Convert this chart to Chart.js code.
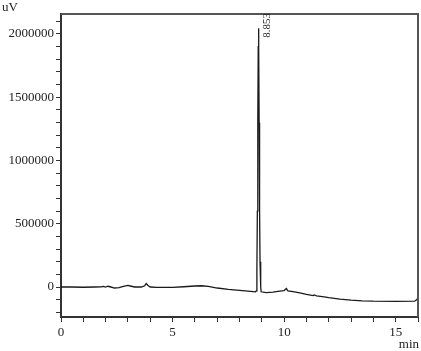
<!DOCTYPE html>
<html>
<head>
<meta charset="utf-8">
<script src="https://cdn.jsdelivr.net/npm/chart.js@4.4.1/dist/chart.umd.min.js"></script>
<style>
  html, body { margin: 0; padding: 0; background: #fff; }
  #wrap { width: 421px; height: 351px; }
</style>
</head>
<body>
<div id="wrap"><canvas id="chrom"></canvas></div>
<script>
// retention time (min) and detector signal (uV)
const times = [0, 0.5, 1.0, 1.5, 1.8, 1.9, 2.0, 2.1, 2.2, 2.4, 2.6, 2.8, 3.0, 3.1, 3.3, 3.6,
  3.75, 3.82, 3.9, 4.0, 4.3, 5.0, 5.5, 6.0, 6.3, 6.6, 7.0, 7.5, 8.0, 8.5, 8.72, 8.75,
  8.78, 8.80, 8.82, 8.84, 8.853, 8.865, 8.88, 8.90, 8.92, 8.95, 8.97, 9.2, 9.5, 9.8, 10.0, 10.1,
  10.17, 10.4, 10.7, 11.0, 11.3, 11.35, 11.45, 11.8, 12.0, 12.5, 13.0, 13.5, 14.0,
  15.0, 15.85, 15.95, 16.0];
const signal = [0, 0, -2000, 0, 1000, 5000, 0, 6000, 2000, -8000, -5000, 5000, 12000, 8000, 0, 0,
  10000, 28000, 12000, 0, -3000, -3000, 2000, 8000, 10000, 5000, -8000, -18000, -26000, -34000, -38000, -30000,
  150000, 600000, 1300000, 1900000, 2045000, 1900000, 1300000, 600000, 200000, 0, -38000, -45000, -40000, -33000, -28000, -12000,
  -30000, -36000, -46000, -58000, -68000, -63000, -70000, -78000, -84000, -95000, -104000, -109000, -112000,
  -114000, -112000, -100000, -78000];

const peakTimes = [8.853];
const peakLabels = ['8.853'];

// labelled ticks; minor ticks every 1 min / 100000 uV
const xTickLabels = [0, 5, 10, 15];
const yTickLabels = [0, 500000, 1000000, 1500000, 2000000];
const yMinorStep = 100000;

const serif = 'Liberation Serif';
const ink = '#222';

const framePlugin = {
  id: 'frame',
  afterDraw(chart) {
    const { ctx, chartArea: a, scales } = chart;
    ctx.save();
    // top and right border of the plot box
    ctx.strokeStyle = '#555';
    ctx.lineWidth = 2;
    ctx.beginPath();
    ctx.moveTo(a.left, a.top);
    ctx.lineTo(a.right, a.top);
    ctx.lineTo(a.right, a.bottom);
    ctx.stroke();

    ctx.fillStyle = ink;
    ctx.font = '13px "' + serif + '"';
    ctx.textBaseline = 'alphabetic';
    ctx.textAlign = 'left';
    ctx.fillText('uV', 2, 11);
    ctx.textAlign = 'right';
    ctx.fillText('min', 419, 348);

    // peak retention time labels, rotated
    ctx.font = '11px "' + serif + '"';
    peakTimes.forEach((t, i) => {
      const px = scales.x.getPixelForValue(t);
      ctx.save();
      ctx.translate(px + 3, a.top - 1);
      ctx.rotate(-Math.PI / 2);
      ctx.textAlign = 'right';
      ctx.textBaseline = 'top';
      ctx.fillText(peakLabels[i], 0, 0);
      ctx.restore();
    });
    ctx.restore();
  }
};

new Chart(document.getElementById('chrom'), {
  type: 'line',
  data: {
    datasets: [{
      data: times.map((t, i) => ({ x: t, y: signal[i] })),
      borderColor: '#1a1a1a',
      borderWidth: 1.3,
      pointRadius: 0,
      tension: 0,
      fill: false
    }]
  },
  options: {
    responsive: true,
    maintainAspectRatio: false,
    animation: false,
    layout: { padding: { top: 14, right: 2, left: 0, bottom: 0 } },
    plugins: { legend: { display: false }, tooltip: { enabled: false } },
    scales: {
      x: {
        type: 'linear',
        min: 0,
        max: 16,
        afterFit(s) { s.height = 34; },
        ticks: {
          stepSize: 1,
          autoSkip: false,
          maxRotation: 0,
          padding: 3,
          color: ink,
          font: { family: serif, size: 13 },
          callback: v => xTickLabels.includes(v) ? String(v) : ''
        },
        grid: { drawOnChartArea: false, drawTicks: true, tickLength: 5, color: '#333' },
        border: { color: '#333', width: 2 }
      },
      y: {
        min: -237000,
        max: 2157000,
        afterFit(s) { s.width = 61; },
        afterBuildTicks(s) {
          const ticks = [];
          for (let v = Math.ceil(s.min / yMinorStep) * yMinorStep; v <= s.max; v += yMinorStep) {
            ticks.push({ value: v });
          }
          s.ticks = ticks;
        },
        ticks: {
          autoSkip: false,
          padding: 2,
          color: ink,
          font: { family: serif, size: 13 },
          callback: v => yTickLabels.includes(v) ? String(v) : ''
        },
        grid: { drawOnChartArea: false, drawTicks: true, tickLength: 5, color: '#333' },
        border: { color: '#333', width: 2 }
      }
    }
  },
  plugins: [framePlugin]
});
</script>
</body>
</html>
